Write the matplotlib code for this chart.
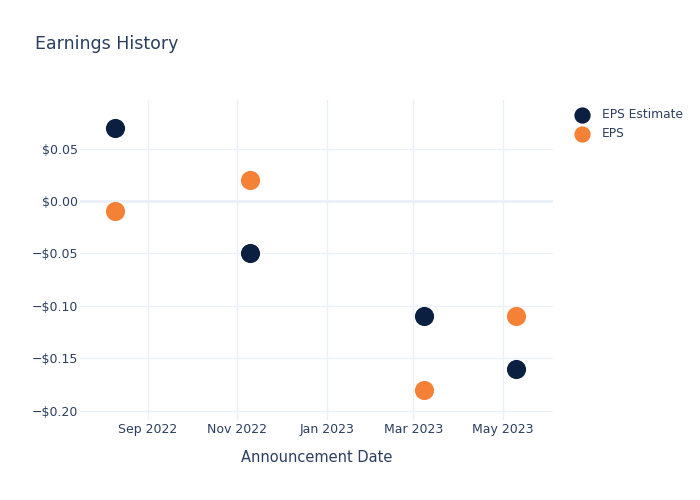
import numpy as np
import matplotlib
matplotlib.use('Agg')
from matplotlib import pyplot as plt
import matplotlib.dates as mdates
from matplotlib.ticker import FuncFormatter, FixedLocator

dates = np.array(['2022-08-10', '2022-11-10', '2023-03-08', '2023-05-10'], dtype='datetime64[D]')
eps_estimate = [0.07, -0.05, -0.11, -0.16]
eps_actual = [-0.01, 0.02, -0.18, -0.11]
y_ticks = [0.05, 0.0, -0.05, -0.10, -0.15, -0.20]
x_ticks = np.array(['2022-09-01', '2022-11-01', '2023-01-01', '2023-03-01', '2023-05-01'], dtype='datetime64[D]')

text_col = '#2a3f5f'
grid_col = '#ebf0f8'
navy = '#0b1f41'
orange = '#f58136'

plt.rcParams['font.family'] = ['DejaVu Sans']
fig = plt.figure(figsize=(7, 5), dpi=100)
ax = fig.add_axes([80/700, 80/500, 473/700, 320/500])

ax.scatter(dates, eps_estimate, s=190, color=navy, label='EPS Estimate', zorder=3, linewidths=0)
ax.scatter(dates, eps_actual, s=190, color=orange, label='EPS', zorder=3, linewidths=0)

ax.set_xlim(np.datetime64('2022-07-17'), np.datetime64('2023-06-04'))
ax.set_ylim(-0.2086, 0.0962)

ax.xaxis.set_major_locator(FixedLocator(mdates.date2num(x_ticks)))
ax.xaxis.set_major_formatter(mdates.DateFormatter('%b %Y'))
ax.yaxis.set_major_locator(FixedLocator(y_ticks))
ax.yaxis.set_major_formatter(FuncFormatter(
    lambda v, p: ('\u2212' if v < -1e-9 else '') + '$%.2f' % abs(v)))

ax.grid(True, color=grid_col, linewidth=1)
ax.axhline(0, color=grid_col, linewidth=2, zorder=1)
ax.set_axisbelow(True)
for s in ax.spines.values():
    s.set_visible(False)
ax.tick_params(length=0, colors=text_col, labelsize=9)
ax.tick_params(axis='y', pad=1.5)
ax.tick_params(axis='x', pad=2)

ax.set_xlabel('Announcement Date', color=text_col, fontsize=10.5, labelpad=10)

fig.text(35/700, 1 - 44/500, 'Earnings History', color=text_col, fontsize=12.5, va='center')

leg = ax.legend(loc='upper left', bbox_to_anchor=((559 - 80)/473, (420 - 97)/320), frameon=False,
                fontsize=8.8, labelcolor=text_col, handletextpad=0.6, labelspacing=0.5,
                markerscale=0.85)

fig.savefig('out.png', dpi=100, facecolor='white')
